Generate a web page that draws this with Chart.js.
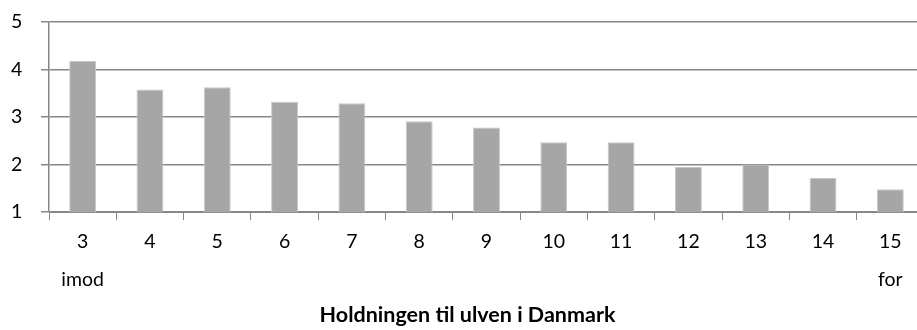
<!DOCTYPE html>
<html>
<head>
<meta charset="utf-8">
<script src="https://cdn.jsdelivr.net/npm/chart.js@4/dist/chart.umd.min.js"></script>
<style>
  html, body { margin: 0; padding: 0; background: #fff; overflow: hidden; }
  #wrap { width: 924px; height: 330px; }
</style>
</head>
<body>
<div id="wrap"><canvas id="myChart" width="924" height="330"></canvas></div>
<script>
// holdning score 3 (imod) .. 15 (for)
const categories = ['3', '4', '5', '6', '7', '8', '9', '10', '11', '12', '13', '14', '15'];
const endLabels = { '3': 'imod', '15': 'for' };
const values = [4.18, 3.58, 3.63, 3.32, 3.29, 2.91, 2.78, 2.47, 2.47, 1.95, 2.00, 1.72, 1.48];
const yTicks = [1, 2, 3, 4, 5];
const axisTitle = 'Holdningen til ulven i Danmark';

const labels = categories.map(c => endLabels[c] ? [c, endLabels[c]] : c);
const fontFamily = "Lato, 'Open Sans', sans-serif";
const lineGrey = '#878787';

const ctx = document.getElementById('myChart');

new Chart(ctx, {
    type: 'bar',
    data: {
        labels: labels,
        datasets: [{
            data: values,
            backgroundColor: '#a6a6a6',
            borderColor: '#c8c8c8',
            borderWidth: 1,
            categoryPercentage: 1,
            barPercentage: 0.4
        }]
    },
    options: {
        responsive: false,
        animation: false,
        layout: { padding: { top: 22, left: 11, right: 0, bottom: 0 } },
        plugins: {
            legend: { display: false },
            tooltip: { enabled: false },
            title: {
                display: true,
                position: 'bottom',
                text: axisTitle,
                color: '#000',
                font: { family: fontFamily, size: 21.5, weight: 'bold' },
                padding: { top: 0, bottom: 2 }
            }
        },
        scales: {
            x: {
                offset: true,
                grid: {
                    offset: true,
                    drawOnChartArea: false,
                    color: lineGrey,
                    lineWidth: 1,
                    tickLength: 8
                },
                border: { color: lineGrey, width: 1 },
                ticks: {
                    color: '#000',
                    maxRotation: 0,
                    autoSkip: false,
                    padding: 3,
                    font: { family: fontFamily, size: 19.5, lineHeight: 1.95 }
                }
            },
            y: {
                min: 1,
                max: 5,
                afterBuildTicks: axis => { axis.ticks = yTicks.map(v => ({ value: v })); },
                // labels sit at the left edge, axis line at x = 49
                afterFit: axis => { axis.width = 38; },
                grid: { color: lineGrey, lineWidth: 1.5, tickLength: 8 },
                border: { color: lineGrey, width: 1.5 },
                ticks: {
                    color: '#000',
                    padding: 0,
                    crossAlign: 'far',
                    font: { family: fontFamily, size: 19.5 }
                }
            }
        }
    }
});
</script>
</body>
</html>
